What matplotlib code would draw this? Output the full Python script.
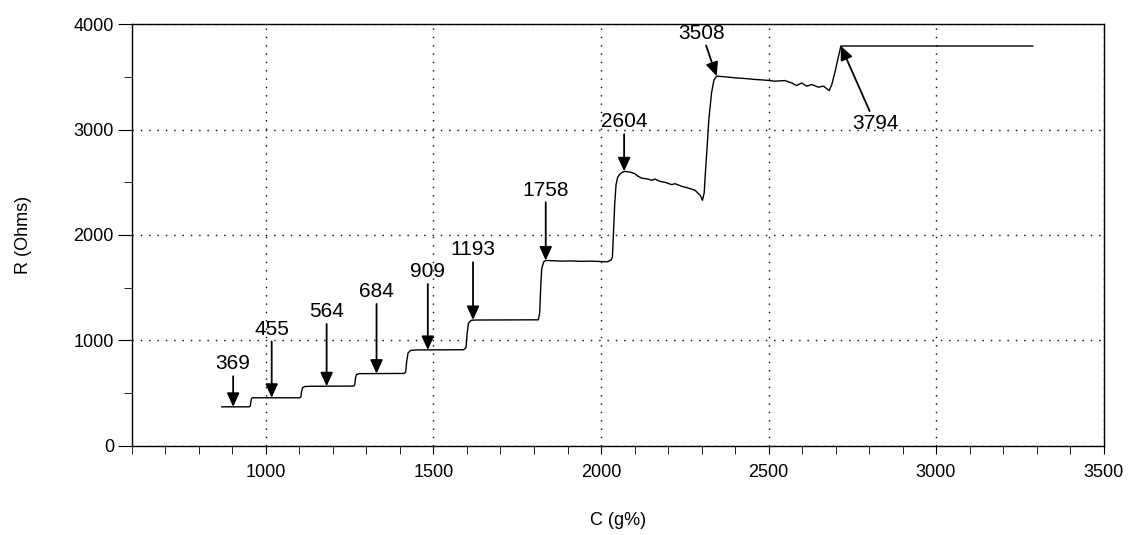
import matplotlib.pyplot as plt
from matplotlib.ticker import MultipleLocator

plt.rcParams['font.family'] = ['Liberation Sans', 'DejaVu Sans']

# resistance trace, C (g%) vs R (Ohms)
c_vals = [868, 950, 953, 955, 957, 962,
          1100, 1104, 1106, 1109, 1116, 1130,
          1262, 1265, 1267, 1270, 1278,
          1413, 1417, 1420, 1424, 1432, 1450,
          1590, 1597, 1600, 1604, 1612, 1625,
          1813, 1817, 1820, 1823, 1829, 1835,
          1860, 1885, 1910, 1940, 1970, 2000, 2020, 2030, 2034, 2037,
          2041, 2045, 2050, 2057, 2064, 2070,
          2087, 2101, 2111, 2121, 2141, 2151, 2161, 2176, 2191, 2211,
          2221, 2241, 2261, 2281, 2297, 2303, 2308, 2311, 2316, 2322,
          2330, 2337, 2345,
          2372, 2400, 2431, 2460, 2490, 2520, 2549, 2569, 2584, 2599,
          2614, 2629, 2649, 2664, 2681, 2689, 2699, 2708, 2716, 3289]
r_vals = [369, 369, 375, 420, 450, 455,
          455, 462, 510, 550, 562, 564,
          566, 580, 640, 675, 684,
          686, 700, 800, 880, 905, 909,
          911, 930, 1050, 1160, 1190, 1193,
          1195, 1260, 1500, 1680, 1745, 1758,
          1755, 1752, 1754, 1750, 1752, 1748, 1746, 1762, 1790, 2000,
          2300, 2480, 2550, 2580, 2596, 2604,
          2597, 2582, 2557, 2540, 2531, 2519, 2531, 2509, 2500, 2478,
          2487, 2462, 2445, 2424, 2373, 2330, 2400, 2560, 2800, 3100,
          3350, 3470, 3508,
          3501, 3492, 3485, 3476, 3470, 3460, 3466, 3443, 3419, 3443,
          3413, 3428, 3403, 3413, 3371, 3428, 3555, 3682, 3794, 3794]

# plateau markers: value, arrow tip C, label position (C, R)
marks = [369, 455, 564, 684, 909, 1193, 1758, 2604, 3508, 3794]
mark_c = [902, 1017, 1181, 1330, 1483, 1618, 1835, 2069, 2345, 2716]
label_c = [902, 1017, 1181, 1330, 1483, 1618, 1835, 2069, 2301, 2818]
label_r = [776, 1105, 1272, 1462, 1652, 1858, 2427, 3073, 3915, 3060]

fig = plt.figure(figsize=(11.31, 5.35), dpi=100)
ax = fig.add_axes([0.1167, 0.1669, 0.859, 0.7877])

ax.plot(c_vals, r_vals, color='black', lw=1.0)

for val, xc, tx, ty in zip(marks, mark_c, label_c, label_r):
    ax.annotate(str(val), xy=(xc, val), xytext=(tx, ty),
                ha='center', va='center', fontsize=15,
                arrowprops=dict(arrowstyle='-|>,head_length=0.55,head_width=0.25',
                                color='black', lw=1.3, shrinkA=0, shrinkB=0))

ax.set_xlim(600, 3500)
ax.set_ylim(0, 4000)
ax.xaxis.set_major_locator(MultipleLocator(500))
ax.xaxis.set_minor_locator(MultipleLocator(100))
ax.yaxis.set_major_locator(MultipleLocator(1000))
ax.yaxis.set_minor_locator(MultipleLocator(500))
ax.tick_params(axis='both', which='both', direction='out', labelsize=13)
ax.tick_params(axis='y', which='major', length=10, pad=3)
ax.tick_params(axis='y', which='minor', length=5.5)
ax.tick_params(axis='x', which='major', length=5.5, pad=8)
ax.tick_params(axis='x', which='minor', length=5.5)
ax.set_xticks([1000, 1500, 2000, 2500, 3000, 3500])
ax.grid(True, which='major', color='black', linestyle=(0, (1, 5)), lw=1)

for s in ax.spines.values():
    s.set_linewidth(1.0)

ax.set_xlabel('C (g%)', fontsize=13, labelpad=22)
ax.set_ylabel('R (Ohms)', fontsize=13, labelpad=30)

fig.savefig('out.png', dpi=100)
